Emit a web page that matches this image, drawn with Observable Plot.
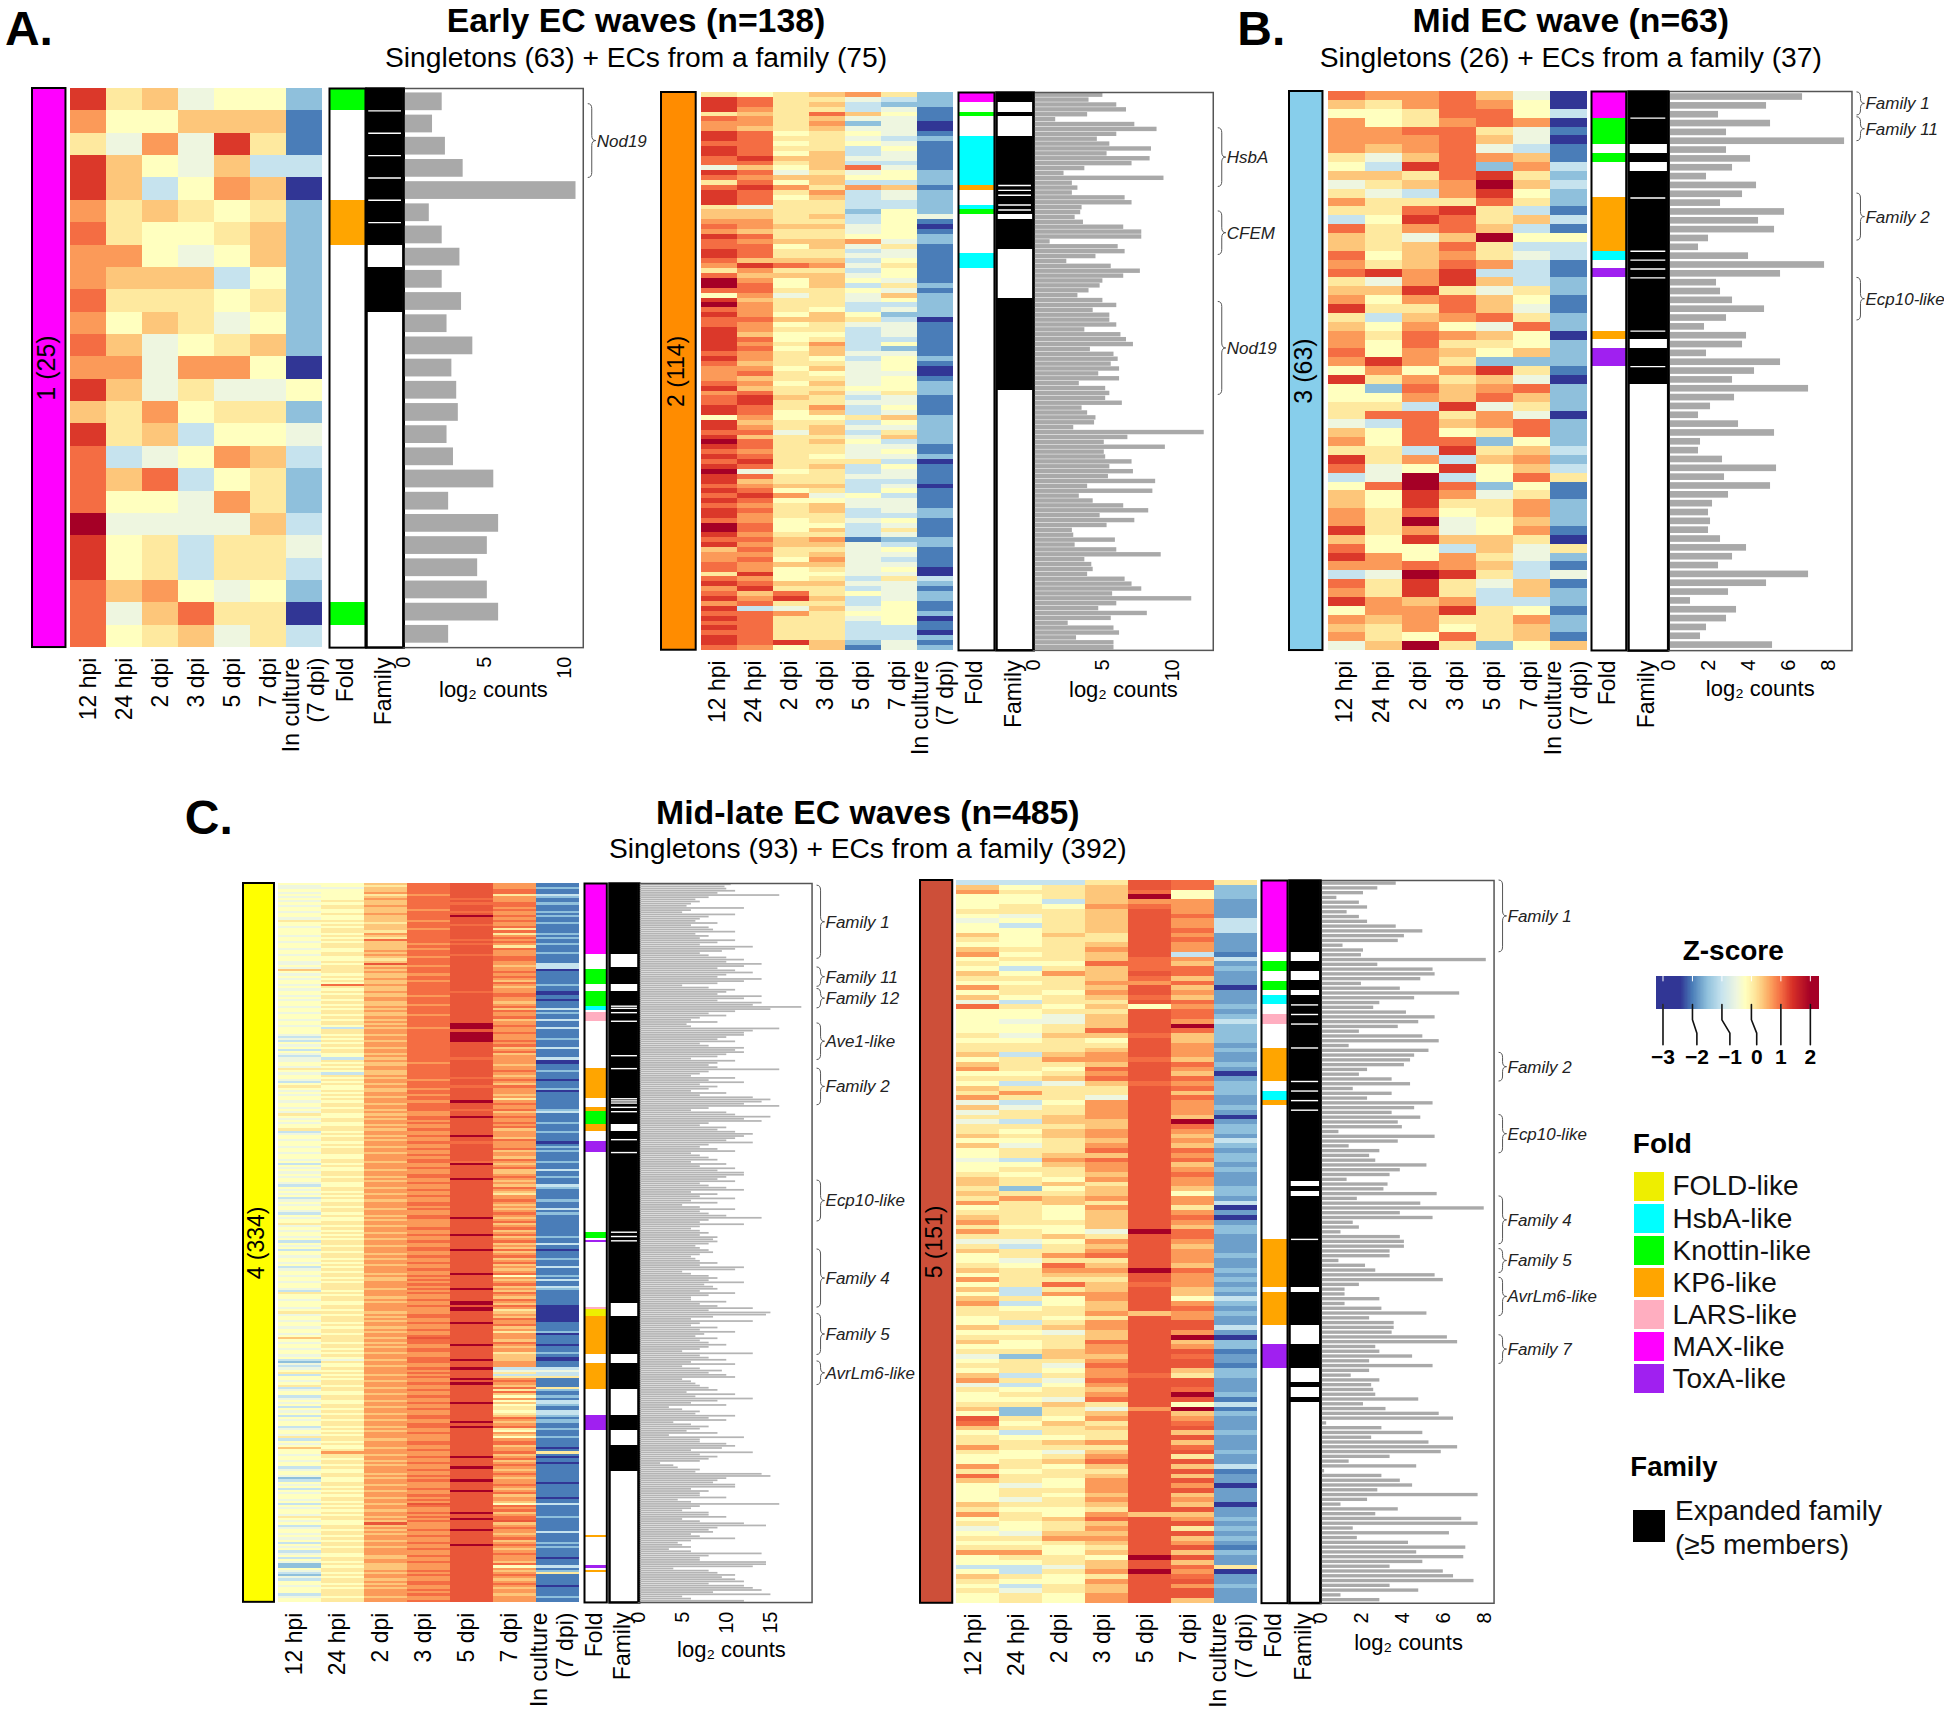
<!DOCTYPE html>
<html><head><meta charset="utf-8">
<script src="https://cdn.jsdelivr.net/npm/d3@7"></script>
<script src="https://cdn.jsdelivr.net/npm/@observablehq/plot@0.6"></script>
<style>
html,body{margin:0;padding:0;background:#fff}
#page{position:relative;width:1944px;height:1718px;overflow:hidden;font-family:"Liberation Sans",Arial,sans-serif;color:#000}
#page div.t{position:absolute;white-space:nowrap;line-height:1}
</style></head><body><div id="page"></div>
<script>
const times = ["12 hpi","24 hpi","2 dpi","3 dpi","5 dpi","7 dpi","In culture\n(7 dpi)"];
const levelZ = [-3,-2,-1.5,-1,-0.5,-0.2,0.1,0.4,0.7,1,1.15,2,-1.75];
const levelZStrong = [-3,-2,-1.5,-1,-0.5,-0.2,0.1,0.4,0.7,1,1.35,2,-1.75];
const zDomain = [-3,-2.4,-2,-1.5,-1,-0.5,-0.2,0.1,0.4,0.7,1,1.4,2];
const zRange = ["#313695","#313695","#4a7db8","#8fc0dc","#c6e3ee","#eef6e0","#ffffbf","#fee99f","#fdc67a","#fb9a59","#f46d43","#d73027","#a50026"];

// Rows of heat levels (base 13): 12 hpi, 24 hpi, 2 dpi, 3 dpi, 5 dpi, 7 dpi, in culture
const heat1 = `a674552 8557771 6484a61 a754733 a735870 8676562 9655672 8854572 8777352 9666562
8576452 9745672 8848850 a746445 7685662 a673554 9345873 9793562 9554862 b444473 a563664 a563663 9785452 9479660 9567463`;
const heat2 = `6567862 a966432 a967322 a866341 6769751 9867441 8868240 8767440 a956541 a966432
9956541 a966351 a957341 9a77441 9967331 4757941 a946452 9877552 6957332 9a86871
a968342 a957342 a966332 6466332 7766252 7767354 8866351 9877450 8766451 a966552
9877842 9957461 a966341 a966441 9777351 8a98461 6866351 9777451 b857541 b957362
9966541 5846472 a766452 b866332 9865342 a857522 9977630 9856441 a866341 a755341
a956331 a868351 a957321 9867441 a865352 9766451 8857450 8965440 8766451 9857452
a766552 8967462 9a76341 9a66441 a968351 a957341 5855672 a766352 a867442 9947362
a766472 b967532 a966441 9866451 a965442 9a66630 a967351 b456341 a966441 a766331
9877340 a956351 9a84531 a955441 9867441 a967342 a866332 9856451 b955341 b957361
a866341 9978122 a877432 7966451 8867441 8958431 9877441 9856450 6a55440 9856363
a977442 8a66341 9796542 a8a7342 8966351 a347451 9986552 a966450 9966351 a966331
9966330 a966332 a9a7241 9857142 a966251 a968441 8766331 5866441 b967442 a766341
5866352 a966342 9968342 a977332`;
const heat3 = `9889740 7689850 5569953 8568980 8899641 8889740 8789431 6479871 53a9283 7769a62
4678b73 6438a52 8666962 669a631 35a9673 9689731 7647b55 7679633 9578643 8679831
9a8a331 648a732 77a6462 8589751 a669741 6378962 7585492 8698750 8596652 9587572
8a86222 5858a61 a686740 5297892 5587972 663a462 6996840 4397892 7595692 8599252
663a673 a683782 945a573 34b3596 59b9251 75a8461 75a6682 8695682 86b4572 a684581
75a7760 9553746 a858642 8898731 34ba634 96a6471 86a6372 a878332 588a651 8786682
7685672 8659671 47b6257`;
const heat4 = `5579a81 4569a81 4479a82 5579a91 4589a91 5568a63 4579a82 5589981 4679a81 5579992
4689a91 5679a81 5578a91 4579982 5689a81 5579b92 4579a81 6678a91 5569a82 5679981
4579a91 5678a61 5669a91 5589a62 4679a81 5569a92 5699981 4579a91 5678982 5679a61
4578a91 5589a81 5679a82 4689981 5578a91 5569a91 4679a81 45a9a83 5678a73 4689a83
7679a80 5689a91 4578a81 5679a91 4589a81 5678a71 5579a91 4989a82 5679a71 4579a81
5689980 5579a90 4678a91 5689a81 4589a80 5679a71 5578a81 4689a91 5579a73 5689a91
4679a82 5578a81 5689a91 4579a73 5689a81 5679b81 4589b91 5378b83 5689a81 5689b91
4579b81 3689b81 4589b82 3679b91 5589a81 4689a91 5579a73 3689a81 5689a91 4579a71
3589a81 4379983 4689a80 5578a80 5679a71 4589a81 6689a81 5579a92 4379a81 5689a71
5579981 4688a90 3589a81 5679a71 6589991 5578a82 4679a80 5589a81 4688a71 5579a81
5689a61 4588b81 5679a91 5689a81 4589a81 5679992 4688a73 6578a81 5589b91 4679a81
5688a81 4589a92 5578a81 5688a91 6679a71 3588a82 4688a81 5579b81 5688a71 4678a91
5589980 5688a81 4578a82 5689a91 5688a72 4678a81 5589a81 5588a71 4689a91 5679982
3588b71 5688a81 4589a91 5578a73 4688a71 5689a81 4579a92 5688b81 5678a71 4589a81
3588a73 5678a92 4689a81 5588a71 4678a61 5589a81 3688a81 4578a92 5689a81 4689a71
5588a81 5679a73 4688a81 3588a92 5679a81 4589b71 5578a81 5688a91 6688a71 4578a81
5689a91 4588a71 5678a81 5589b91 4688a72 5578a81 3689a91 5688a73 4578a81 5689a71
3689b90 5588a71 5678a81 4689a91 5578a72 5688a81 4589a91 5678a71 3588a83 4689a71
5588a81 5678b91 4689a52 5578a81 5679a73 4588a81 5689a91 5688a73 4679b82 3588a71
6689a91 5588a81 5678a71 4689a91 5578b81 5588b71 5689a90 4688b80 5588b60 6678a70
4589a80 5679a70 5688a90 4678a80 5589b81 5688a91 4578a71 5689a81 5678a62 4588a80
5689a81 767aa81 5689a71 4579a91 5688b80 5678a71 4589a81 5689a81 5578a62 4688a71
5589a70 3479b70 2689a81 4588a81 3578a81 4689b33 5588a44 6689a63 3578a33 5689a66
5588b81 4678a91 5689b81 6588a71 3678a96 4689a62 5588a91 5578a71 3689a52 4688a81
5578a53 4589b73 5688a52 3678a61 5589a61 4688a53 5578a63 3689a72 5689a91 4578a82
5688b72 5689a81 3579b91 4688a62 5578a51 5689a81 4588a71 6688a52 3678a81 5589a91
4689a91 5588a71 7578a80 5689a81 5888a96 4678a71 5689b80 5588a91 4678a71 5689a80
5578a91 3688b81 4589a71 5588a81 5678a91 4689a81 2578a71 3589b81 5688a80 4678a91
5588a81 3689a71 5578b81 4688a91 5589a71 5678a80 4689a81 5588a71 367aa53 5589a91
4688a81 5578a91 5689b71 4588a81 6679a92 5688b91 4579aa1 55a8a71 3678a81 4688a91
5579b81 5688a83 4678a71 5589a81 4688a91 5578a71 3689a82 5688b91 4578a82 5689a71
3688a81 4588a91 5579a81 3678a80 5688a81 4589a71 2678a91 2578a53 5678a81 4689a72
3578a86 2689a91 4588a81 3678a71 5689a81 5579a91 4688a80 5578a71 5689a81 5688a81
3689a71 4578a82 5688a81 5689a81`;
const heat5 = `3336a96 7567a92 8667952 5567b52 553788c 565898c 6667a8c 5467a9c 4567a83 5367a83
5567a93 7576a8c 6566a9c 5567a8c 7668a8c 8567a31 5667983 655997c 5367992 7587a9c
666797c 556889c 8667a70 5658a8c 756797c 4366a9c 9657582 5566a9c 5547a92 5447a83
5567ab2 5569a92 6477972 5565a72 6666a8c 6667a82 7378a8c 568897c 7667a92 8659a8c
5568a70 6679a9c 5347982 7666a92 6866a72 8664a9c 4358a8c 7468a82 4668a8c 6678a70
4377abc 6667a92 6578a82 7678a7c 5567a83 7468a72 5669a9c 5677a82 4389a92 5578a7c
5668a82 6567a9c 7658a8c 7676a8c 6257a72 7667a52 6878a8c 8676a83 5658a60 6657a8c
7657a90 8667a8c 6557a72 8654b92 6676a9c 4458a8c 6367a7c 7668a8c 5689a82 5466a8c
6597a7c 7688b92 5677a8c 8666a82 569798c 7367a72 5388a7c 7658a53 8357a82 6567a9c
6668782 5656a8c 5368aac 7678aa3 5547a8c 6667ab0 7569a72 5568a82 6678aa1 4277a9c
5668aac 6649aa1 5658a72 7368962 8649aac 4358aac 6567a9c 5668ab2 5549aa1 6676a53
72648b1 5267a72 a658a8c 9576a9c 7667aac 5366a72 6556aac 6678a7c 8666a9c 6547aa2
5568a6c 5679aac 8657a73 6566aa1 9667a7c 7658aac 5458a80 5668aac 5657a7c 5468a8c
7667a70 6556aac 865877c 5679a82 6567aac 4568a62 5477aac 6688a72 5567a8c 6656aa1
8857a72 5665bac 5567a7c 3347a96 5368b80 7656a9c 6558aac 5367a82 6467aac 5658aac
5658a7c`;

const counts1 = [2.4,1.8,2.6,3.7,10.7,1.6,2.4,3.5,2.4,3.6,2.7,4.3,3,3.3,3.4,2.7,3.1,5.6,2.8,5.9,5.2,4.6,5.2,5.9,2.8];
const counts2 = [5,4,6,6.7,3.9,1.6,7.3,8.9,6,4.6,5.5,8.5,5.3,8.4,7.1,3.7,2.2,9.4,2.8,3.2,
2.8,6.6,7.1,3.5,3.4,3,3.6,6.5,7.8,7.8,1.2,6.1,6.6,4.5,2.4,5.6,7.7,6.5,5,4.8,
4,3.2,5,6,4.3,5.5,5.5,6,3.7,6.3,6.7,7.2,4.1,5.8,6.1,5.6,6.2,4.7,6.2,3.3,
5.2,5.5,5.2,6.4,3.5,3.9,4.5,4.4,2.9,12.3,6.8,5.1,9.5,5.1,5.2,7.1,5.5,7.2,5.4,8.8,
3.9,8.6,3.3,4.3,6.5,8.3,4.8,7.3,5.3,2.8,2.9,5.9,3,6,9.2,3.7,4.2,4.3,3.9,6.6,
7.1,7.8,5.7,11.4,6,4.7,8.2,5.6,2.5,5.8,6.2,3.1,5.8,5.8];
const counts3 = [6.7,4.9,2.5,5.1,2.9,8.8,2.9,4.1,3.2,1.9,4.4,3.7,2.6,5.8,4.5,5.3,2,1.5,4,7.8,5.6,2.4,2.6,3.2,4.8,2.9,1.8,3.9,3.7,1.9,5.6,4.3,3.2,7,3.3,2.1,1.5,3.5,5.3,1.6,1.5,2.7,5.4,2.8,5.1,3,2.2,2,2.1,2,2.6,3.9,3.2,2.5,7,4.9,3,1.1,3.4,2.9,1.9,1.6,5.2];
const counts4 = [10.5,9.8,10,11,9,16,8,6.5,7,6,5.5,12,6,5,11,8,7,6.5,9,6,
8,8.5,11,6.5,8,7,11,9,7,13,11,9.5,7,8,10,12,10,14,12,9,
11,13,10,9,14,12,9,5,8,11,10,9,14,12,9,14,13,18.5,15,11,
8,10,7,6,9,5.5,6,16,13,12,12,10,9,11,7,8,12,11,12,10,
9,6,11,9,8,9,16,8,7,6,11,8,12,7,9,8,6,10,7,13,
15,14,12,16,8,6,10,11,15,12,14,8,7,10,9,11,13,12,11,10,
13,8,7,9,11,6,7,8,9,6,10,7,11,9,12,12,10,9,11,7,
8,10,12,6,9,7,11,6,9,5,7,11,7,8,10,14,8,7,12,7,
6,7,8,7,9,8.5,9,8,6.5,7,8,8.5,7,6,6.5,7,9,7,12,11,
5,6,8,9,8,12,7.5,8.5,9,7,11,8,6,6,10,7,9,13,8,15,
14.5,8.5,6,13,7,6,9,7,11,7.5,6.5,9,7,8,10,8,7,5,13,7,
8,10,6,11,5,7,9.5,8,10,11,5,6,6.5,7,8,9,5.5,11,6.5,13,
9,6,10,3.5,5,7,6.5,11,8,10,4,6,8,7,5.5,9,3.5,12,7,7,
10,11,9.5,6,13,7,9,8,7,2.5,4,4.5,7,6.5,14,15,10,9,8.5,11,
11,6,8,7,7,10,4.5,6,16,7,6,5,8,8,10,5,7,12,14.5,9,
8,8.5,6,7,11,6,4.5,5,6,3.5,6,14,8,7,7,14.5,14.5,13,4,8,
9,11,9.5,11,12,8,12,13,14,8.5,15,5,6,12,8,6,11,12,4.5,6,
15.5,7,9.5,10,15,9,8,10,10,10,6];
const counts5 = [3.7,2.8,2.1,.8,1.9,2.3,1.3,1.9,2.3,3.7,5,4.1,3.8,1.1,2.1,2,8.1,2.8,5.5,5.6,
4.9,2,3.9,6.8,4.6,2.9,2.6,4.2,5.6,4.8,3.8,1.9,5,5.8,1.4,5.3,4.6,4.4,4.1,2.3,
1.9,3.5,4.4,1.6,3.5,2.3,5.5,4.6,3.5,4.9,3.8,4,.9,5.6,3.8,1.4,2.9,2.4,2.7,5.2,
3.9,3.4,1.3,3.3,3.1,5.7,1.8,4.9,8,3.9,5.5,1.6,1.9,1,3.9,4.1,4.1,3.4,3.4,.9,
2.2,2.7,5.6,6,1.9,1.2,1.2,2.9,1.2,3,5.2,2.4,3.6,3.6,3.5,6.2,6.7,2.7,2.9,4.5,
2.4,5.5,2.4,1.5,2.9,2.5,2.6,2.7,4.8,2.1,3.2,5.8,6.5,.3,3,5,2.5,5.3,6.7,5.9,
3.4,1.4,4.7,.2,3,3.9,4.5,2.8,7.7,2.3,1,3.8,2.7,6.9,7.7,1.6,6.3,1.8,4.3,7.1,
4.7,7,5,3.4,6,6.5,7.5,3.4,4.8,1,2.9];

// Fold annotation runs: [first row, end row, fold]
const foldColors = {"FOLD-like":"#eeee00","HsbA-like":"#00ffff","Knottin-like":"#00ff00","KP6-like":"#ffa500","LARS-like":"#ffaec0","MAX-like":"#ff00ff","ToxA-like":"#a020f0"};
const fold1 = [[0,1,"Knottin-like"],[5,7,"KP6-like"],[23,24,"Knottin-like"]];
const fold2 = [[0,2,"MAX-like"],[4,5,"Knottin-like"],[9,19,"HsbA-like"],[19,20,"KP6-like"],[23,24,"HsbA-like"],[24,25,"Knottin-like"],[33,36,"HsbA-like"]];
const fold3 = [[0,3,"MAX-like"],[3,6,"Knottin-like"],[7,8,"Knottin-like"],[12,18,"KP6-like"],[18,19,"HsbA-like"],[20,21,"ToxA-like"],[27,28,"KP6-like"],[29,31,"ToxA-like"]];
const fold4 = [[0,33,"MAX-like"],[40,47,"Knottin-like"],[50,57,"Knottin-like"],[57,59,"HsbA-like"],[60,64,"LARS-like"],[86,100,"KP6-like"],[104,106,"KP6-like"],[106,112,"Knottin-like"],[112,115,"KP6-like"],[120,125,"ToxA-like"],[162,165,"Knottin-like"],[166,167,"ToxA-like"],[197,198,"LARS-like"],[198,201,"FOLD-like"],[201,219,"KP6-like"],[223,235,"KP6-like"],[247,254,"ToxA-like"],[303,304,"KP6-like"],[317,318,"ToxA-like"],[319,320,"KP6-like"]];
const fold5 = [[0,15,"MAX-like"],[17,19,"Knottin-like"],[21,23,"Knottin-like"],[24,26,"HsbA-like"],[28,30,"LARS-like"],[35,42,"KP6-like"],[44,46,"HsbA-like"],[46,47,"KP6-like"],[75,85,"KP6-like"],[86,93,"KP6-like"],[97,102,"ToxA-like"]];
// Expanded family runs: [first row, end row], plus row borders between families
const family1 = [[0,7],[8,10]];
const famSep1 = [1,2,3,4,5,6];
const family2 = [[0,2],[4,5],[9,25],[26,32],[42,61]];
const famSep2 = [19,20,21,23,24];
const family3 = [[0,6],[7,8],[9,28],[29,33]];
const famSep3 = [3,12,18,19,20,21,27,31];
const family4 = [[0,33],[39,47],[50,112],[115,195],[201,219],[223,235],[247,254],[261,273]];
const famSep4 = [57,58,60,64,80,86,100,101,102,104,106,119,125,162,164,166];
const family5 = [[0,15],[17,19],[21,23],[24,63],[64,65],[66,85],[86,93],[97,102],[105,106],[108,109]];
const famSep5 = [26,28,30,35,42,44,46,48,75];
// Braces: [first row, end row, label]
const brace1 = [[0.7,4,"Nod19"]];
const brace2 = [[7.3,19.3,"HsbA"],[24.3,33.2,"CFEM"],[42.8,61.8,"Nod19"]];
const brace3 = [[0.1,2.7,"Family 1"],[2.9,5.6,"Family 11"],[11.5,16.8,"Family 2"],[21,25.8,"Ecp10-like"]];
const brace4 = [[1,35,"Family 1"],[39,48,"Family 11"],[49,58,"Family 12"],[65,82,"Ave1-like"],[86,103,"Family 2"],[138,157,"Ecp10-like"],[170,197,"Family 4"],[200,219,"Family 5"],[222,233,"AvrLm6-like"]];
const brace5 = [[0,15,"Family 1"],[36,42,"Family 2"],[49,57,"Ecp10-like"],[66,76,"Family 4"],[77,82,"Family 5"],[83,91,"AvrLm6-like"],[95,101,"Family 7"]];
const axisTicks = {a:[0,5,10],b:[0,2,4,6,8],c:[0,5,10,15]};

const S = 1944/1568, FONT='"Liberation Sans",Arial,sans-serif';
const page = document.getElementById("page");
const panels = [
 {id:"1 (25)",col:"#ff00ff",levels:levelZStrong,heat:heat1,counts:counts1,fold:fold1,family:family1,sep:famSep1,brace:brace1,ticks:axisTicks.a,max:11.15,pad:.2,barFill:"#a9a9a9",logDx:0,axDx:-1,
  bar:[26,53],h:[55,262],f:[265,294],fam:[295,325],end:470,top:71,bot:522,logDy:49},
 {id:"2 (114)",col:"#ff8c00",levels:levelZStrong,heat:heat2,counts:counts2,fold:fold2,family:family2,sep:famSep2,brace:brace2,ticks:axisTicks.a,max:12.95,pad:.1,barFill:"#a9a9a9",logDx:0,axDx:-3,
  bar:[533,561],h:[563,771],f:[773,802],fam:[803,833],end:978,top:74,bot:524,logDy:47},
 {id:"3 (63)",col:"#87ceeb",levels:levelZStrong,heat:heat3,counts:counts3,fold:fold3,family:family3,sep:famSep3,brace:brace3,ticks:axisTicks.b,max:9.17,pad:.25,barFill:"#a9a9a9",logDx:0,axDx:-3,
  bar:[1040,1067],h:[1070,1281],f:[1283,1311],fam:[1313,1345],end:1493,top:73,bot:524,logDy:45},
 {id:"4 (334)",col:"#ffff00",levels:levelZ,heat:heat4,counts:counts4,fold:fold4,family:family4,sep:famSep4,brace:brace4,ticks:axisTicks.c,max:19.66,pad:.2,barFill:"#b4b4b4",logDx:5,axDx:-6,
  bar:[196,221],h:[223,469],f:[471,489],fam:[491,515],end:655,top:712,bot:1292,logDy:54},
 {id:"5 (151)",col:"#cd4f39",levels:levelZ,heat:heat5,counts:counts5,fold:fold5,family:family5,sep:famSep5,brace:brace5,ticks:axisTicks.b,max:8.48,pad:.3,barFill:"#a9a9a9",logDx:1,axDx:-5,
  bar:[742,768],h:[770,1015],f:[1017,1038],fam:[1040,1065],end:1205,top:710,bot:1293,logDy:47}
];
const base = {margin:0,style:{fontFamily:FONT,overflow:"visible",background:"transparent",color:"#000"}};
function put(node,x,y){node.style.position="absolute";node.style.left=(x*S)+"px";node.style.top=(y*S)+"px";page.appendChild(node);}
function txt(x,y,s,css){const d=document.createElement("div");d.className="t";d.textContent=s;Object.assign(d.style,{left:(x*S)+"px",top:(y*S)+"px",transform:"translateY(-50%)"},css||{});page.appendChild(d);return d;}
const LBL=23, BOTTOM=170;

function colLabel(s){return Plot.text([s],{frameAnchor:"bottom",rotate:-90,textAnchor:"end",dx:6,dy:10,fontSize:LBL,fill:"#000"});}
function braces(list,n){return (I,sc,v,dim)=>{
  const g=d3.create("svg:g");
  const yy=r=>dim.marginTop+r*(dim.height-dim.marginTop-dim.marginBottom)/n;
  const x0=dim.width-dim.marginRight+5;
  for(const [a,b,l] of list){const t=yy(a),e=yy(b),m=(t+e)/2,w=4,c=Math.min(5,(e-t)/4);
    g.append("path").attr("fill","none").attr("stroke","#555").attr("stroke-width",1)
     .attr("d",`M${x0},${t}Q${x0+w},${t} ${x0+w},${t+c}L${x0+w},${m-c}Q${x0+w},${m} ${x0+2*w},${m}Q${x0+w},${m} ${x0+w},${m+c}L${x0+w},${e-c}Q${x0+w},${e} ${x0},${e}`);
    g.append("text").attr("x",x0+2*w+1).attr("y",m).attr("dy","0.35em").attr("text-anchor","start").attr("font-size",17).attr("font-style","italic").attr("fill","#222").text(l);}
  return g.node();};}

for(const p of panels){
  const rows=p.heat.trim().split(/\s+/), H=(p.bot-p.top)*S;
  const nRows=+p.id.match(/\((\d+)\)/)[1];
  const yDom=d3.range(nRows);
  // cluster bar
  put(Plot.plot({...base,width:(p.bar[1]-p.bar[0])*S,height:H,x:{domain:[0,1],axis:null},y:{domain:[0,1],axis:null},marks:[
    Plot.rect([p],{x1:0,x2:1,y1:0,y2:1,fill:d=>d.col,stroke:"#000",strokeWidth:2}),
    Plot.text([p.id],{frameAnchor:"middle",rotate:-90,dx:-2,fontSize:p.id.length>6?23:25,fill:"#000"})]}),p.bar[0],p.top);
  // heat map
  const cells=rows.flatMap((s,r)=>Array.from(s,(ch,c)=>({r,t:times[c],z:p.levels[parseInt(ch,13)]})));
  put(Plot.plot({...base,width:(p.h[1]-p.h[0])*S,height:H+BOTTOM,marginBottom:BOTTOM,
    x:{domain:times,padding:0,axis:null,label:null},y:{domain:yDom,padding:0,axis:null,round:false},
    color:{type:"linear",domain:zDomain,range:zRange,clamp:true},
    marks:[Plot.cell(cells,{x:"t",y:"r",fill:"z",shapeRendering:"crispEdges"}),
      Plot.axisX({tickRotate:-90,tickSize:0,tickPadding:10,label:null,fontSize:LBL,lineHeight:1.1,dx:p.axDx})]}),p.h[0],p.top);
  // fold column
  put(Plot.plot({...base,width:(p.f[1]-p.f[0])*S,height:H+BOTTOM,marginBottom:BOTTOM,x:{domain:[0,1],axis:null},y:{domain:[nRows,0],axis:null},marks:[
    Plot.rect(p.fold,{x1:0,x2:1,y1:d=>d[0],y2:d=>d[1],fill:d=>foldColors[d[2]],shapeRendering:"crispEdges"}),
    Plot.frame({stroke:"#000",strokeWidth:2}),colLabel("Fold")]}),p.f[0],p.top);
  // family column
  put(Plot.plot({...base,width:(p.fam[1]-p.fam[0])*S,height:H+BOTTOM,marginBottom:BOTTOM,x:{domain:[0,1],axis:null},y:{domain:[nRows,0],axis:null},marks:[
    Plot.rect(p.family,{x1:0,x2:1,y1:d=>d[0],y2:d=>d[1],fill:"#000",shapeRendering:"crispEdges"}),
    Plot.ruleY(p.sep,{x1:.06,x2:.94,stroke:"#fff",strokeWidth:1.4}),
    Plot.frame({stroke:"#000",strokeWidth:2.5}),colLabel("Family")]}),p.fam[0],p.top);
  // counts
  const bars=p.counts.map((v,r)=>({v,r}));
  put(Plot.plot({...base,width:(p.end-p.fam[1])*S,height:H+BOTTOM,marginBottom:BOTTOM,
    x:{domain:[0,p.max],axis:null},y:{domain:yDom,padding:p.pad,axis:null,round:false},marks:[
    Plot.barX(bars,{x:"v",y:"r",fill:p.barFill}),
    Plot.frame({stroke:"#555",strokeWidth:1.5}),
    Plot.ruleX([0],{stroke:"#000",strokeWidth:2.5}),
    Plot.axisX({ticks:p.ticks,tickRotate:-90,tickSize:0,tickPadding:9,label:null,fontSize:20}),
    Plot.text(["log₂ counts"],{frameAnchor:"bottom",dy:p.logDy,dx:p.logDx*S,fontSize:22,fill:"#000"}),
    braces(p.brace,nRows)]}),p.fam[1],p.top);
}

// Headings
const titles=[[513,17,"Early EC waves (n=138)"],[1267,17,"Mid EC wave (n=63)"],[700,656,"Mid-late EC waves (n=485)"]];
const subs=[[513,46,"Singletons (63) + ECs from a family (75)"],[1267,46,"Singletons (26) + ECs from a family (37)"],[700,684,"Singletons (93) + ECs from a family (392)"]];
for(const [x,y,s] of titles) txt(x,y,s,{fontSize:"33.8px",fontWeight:"700",transform:"translate(-50%,-50%)"});
for(const [x,y,s] of subs) txt(x,y,s,{fontSize:"28.2px",transform:"translate(-50%,-50%)"});
const letter={fontSize:"48px",fontWeight:"700"};
txt(4,23,"A.",letter);
txt(998,23,"B.",letter);
txt(149,660,"C.",letter);

// Z-score legend
txt(1398,767,"Z-score",{fontSize:"28px",fontWeight:"700",transform:"translate(-50%,-50%)"});
const zTicks=[-3,-2,-1,0,1,2], zLabelAt=[-3,-1.85,-0.73,0.18,1,2];
const ramp=d3.range(-3.22,2.29,0.02);
put(Plot.plot({...base,width:131*S,height:90,x:{domain:[-3.22,2.29],axis:null},y:{domain:[2.7,0],axis:null},
  color:{type:"linear",domain:zDomain,range:zRange,clamp:true},marks:[
  Plot.rect(ramp,{x1:d=>d,x2:d=>d+.03,y1:0,y2:1,fill:d=>d,shapeRendering:"crispEdges"}),
  Plot.ruleX(zTicks,{y1:0,y2:.16,stroke:"#fff"}),Plot.ruleX(zTicks,{y1:.84,y2:1,stroke:"#fff"}),
  Plot.line(zTicks.flatMap((t,i)=>[[t,.84],[t,1.3],[zLabelAt[i],1.7],[zLabelAt[i],2.05]].map(q=>({x:q[0],y:q[1],t}))),{x:"x",y:"y",z:"t",stroke:"#111",strokeWidth:1.6}),
  Plot.text(zTicks,{x:(d,i)=>zLabelAt[i],y:()=>2.42,text:d=>d<0?"−"+(-d):String(d),fontSize:21,fontWeight:700,fill:"#000"})]}),1336,787);

// Fold legend
txt(1317,923,"Fold",{fontSize:"28px",fontWeight:"700"});
Object.entries(foldColors).forEach(([k,c],i)=>{
  const yc=957+i*25.9, sw=document.createElement("div");
  Object.assign(sw.style,{position:"absolute",left:(1318*S)+"px",top:((yc-12)*S)+"px",width:(24*S)+"px",height:(23.5*S)+"px",background:c});
  page.appendChild(sw);
  txt(1349,yc,k,{fontSize:"28px",color:"#111"});
});
// Family legend
txt(1315,1183,"Family",{fontSize:"27.5px",fontWeight:"700"});
const sw=document.createElement("div");
Object.assign(sw.style,{position:"absolute",left:(1317*S)+"px",top:(1218*S)+"px",width:(26*S)+"px",height:(26*S)+"px",background:"#000"});
page.appendChild(sw);
txt(1351,1219,"Expanded family",{fontSize:"28px",color:"#111"});
txt(1351,1246,"(≥5 members)",{fontSize:"28px",color:"#111"});
</script></body></html>
